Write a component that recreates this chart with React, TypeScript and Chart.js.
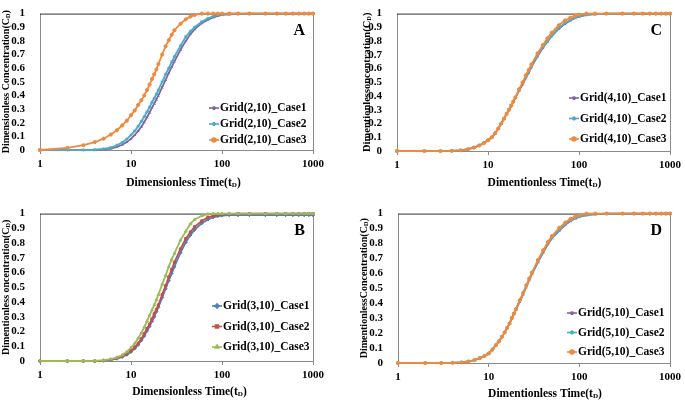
import React, { useEffect, useRef } from 'react';
import { Chart, registerables } from 'chart.js';
import { drawPoint } from 'chart.js/helpers';

Chart.register(...registerables);

// ---------------- data ----------------
const xTicks = [1, 10, 100, 1000];
const yTicks = [0, 0.1, 0.2, 0.3, 0.4, 0.5, 0.6, 0.7, 0.8, 0.9, 1];

// dimensionless time samples (tD)
const tD = [1, 2, 3, 4, 5, 6, 7, 8, 9, 10, 11, 12, 13, 14, 15, 16, 17, 18, 19, 20,
  22, 24, 26, 28, 30, 35, 40, 45, 50, 60, 70, 80, 90, 100, 120, 150, 200,
  300, 400, 500, 600, 700, 800, 900, 1000];

// Panel A : Grid(2,10)
const aLabels = ['Grid(2,10)_Case1', 'Grid(2,10)_Case2', 'Grid(2,10)_Case3'];
const aCase1 = [0, 0, 0, 0, 0.004, 0.01, 0.022, 0.038, 0.058, 0.082, 0.11, 0.14, 0.17, 0.205, 0.24, 0.275, 0.31, 0.34, 0.37, 0.4,
  0.46, 0.515, 0.565, 0.61, 0.65, 0.735, 0.8, 0.85, 0.885, 0.93, 0.955, 0.972, 0.983, 0.99, 0.995, 0.998, 1,
  1, 1, 1, 1, 1, 1, 1, 1];
const aCase2 = [0, 0, 0, 0.002, 0.008, 0.018, 0.035, 0.055, 0.08, 0.11, 0.14, 0.175, 0.21, 0.245, 0.28, 0.315, 0.35, 0.38, 0.41, 0.44,
  0.5, 0.555, 0.6, 0.645, 0.685, 0.765, 0.83, 0.87, 0.9, 0.94, 0.965, 0.98, 0.99, 0.995, 1, 1, 1,
  1, 1, 1, 1, 1, 1, 1, 1];
const aCase3 = [0, 0.016, 0.035, 0.058, 0.083, 0.113, 0.145, 0.18, 0.215, 0.255, 0.29, 0.33, 0.365, 0.4, 0.44, 0.48, 0.52, 0.555, 0.59, 0.63,
  0.7, 0.76, 0.805, 0.845, 0.878, 0.925, 0.958, 0.978, 0.99, 1, 1, 1, 1, 1, 1, 1, 1,
  1, 1, 1, 1, 1, 1, 1, 1];

// Panel B : Grid(3,10)
const bLabels = ['Grid(3,10)_Case1', 'Grid(3,10)_Case2', 'Grid(3,10)_Case3'];
const bCase1 = [0, 0, 0, 0, 0.002, 0.007, 0.016, 0.028, 0.043, 0.062, 0.085, 0.11, 0.14, 0.17, 0.205, 0.235, 0.27, 0.3, 0.335, 0.365,
  0.43, 0.49, 0.545, 0.595, 0.64, 0.735, 0.805, 0.855, 0.89, 0.935, 0.96, 0.975, 0.983, 0.987, 0.99, 0.99, 0.99,
  0.99, 0.99, 0.99, 0.99, 0.99, 0.99, 0.99, 0.99];
const bCase2 = [0, 0, 0, 0, 0.003, 0.009, 0.02, 0.033, 0.05, 0.07, 0.095, 0.12, 0.15, 0.185, 0.22, 0.25, 0.285, 0.32, 0.35, 0.38,
  0.45, 0.51, 0.57, 0.62, 0.67, 0.76, 0.83, 0.875, 0.91, 0.95, 0.975, 0.985, 0.99, 0.995, 0.998, 1, 1,
  1, 1, 1, 1, 1, 1, 1, 1];
const bCase3 = [0, 0, 0, 0.001, 0.005, 0.012, 0.025, 0.04, 0.062, 0.09, 0.12, 0.155, 0.19, 0.23, 0.27, 0.31, 0.345, 0.38, 0.415, 0.45,
  0.52, 0.58, 0.64, 0.69, 0.73, 0.82, 0.88, 0.93, 0.96, 0.985, 0.997, 1, 1, 1, 1, 1, 1,
  1, 1, 1, 1, 1, 1, 1, 1];

// Panel C : Grid(4,10)
const cLabels = ['Grid(4,10)_Case1', 'Grid(4,10)_Case2', 'Grid(4,10)_Case3'];
const cCase1 = [0, 0, 0, 0.001, 0.005, 0.013, 0.025, 0.04, 0.058, 0.078, 0.1, 0.13, 0.165, 0.2, 0.235, 0.27, 0.3, 0.33, 0.36, 0.39,
  0.44, 0.485, 0.53, 0.57, 0.61, 0.69, 0.75, 0.795, 0.835, 0.89, 0.925, 0.95, 0.967, 0.978, 0.99, 0.996, 1,
  1, 1, 1, 1, 1, 1, 1, 1];
const cCase2 = [0, 0, 0, 0.001, 0.005, 0.013, 0.025, 0.04, 0.058, 0.078, 0.1, 0.13, 0.165, 0.2, 0.235, 0.27, 0.3, 0.33, 0.36, 0.39,
  0.445, 0.49, 0.535, 0.575, 0.615, 0.695, 0.755, 0.8, 0.84, 0.895, 0.93, 0.955, 0.97, 0.98, 0.99, 0.996, 1,
  1, 1, 1, 1, 1, 1, 1, 1];
const cCase3 = [0, 0, 0, 0.001, 0.005, 0.013, 0.025, 0.04, 0.058, 0.078, 0.1, 0.13, 0.165, 0.2, 0.235, 0.27, 0.3, 0.33, 0.36, 0.39,
  0.45, 0.5, 0.55, 0.59, 0.63, 0.71, 0.77, 0.82, 0.86, 0.915, 0.95, 0.97, 0.985, 0.992, 1, 1, 1,
  1, 1, 1, 1, 1, 1, 1, 1];

// Panel D : Grid(5,10)
const dLabels = ['Grid(5,10)_Case1', 'Grid(5,10)_Case2', 'Grid(5,10)_Case3'];
const dCase1 = [0, 0, 0, 0.001, 0.004, 0.01, 0.02, 0.033, 0.047, 0.064, 0.09, 0.12, 0.145, 0.175, 0.205, 0.235, 0.265, 0.3, 0.33, 0.36,
  0.41, 0.46, 0.51, 0.555, 0.595, 0.675, 0.74, 0.795, 0.835, 0.885, 0.925, 0.95, 0.967, 0.978, 0.99, 0.996, 1,
  1, 1, 1, 1, 1, 1, 1, 1];
const dCase2 = [0, 0, 0, 0.001, 0.004, 0.01, 0.02, 0.033, 0.047, 0.064, 0.09, 0.12, 0.145, 0.175, 0.205, 0.235, 0.265, 0.3, 0.33, 0.36,
  0.415, 0.465, 0.515, 0.56, 0.6, 0.68, 0.745, 0.8, 0.84, 0.89, 0.93, 0.955, 0.97, 0.98, 0.99, 0.997, 1,
  1, 1, 1, 1, 1, 1, 1, 1];
const dCase3 = [0, 0, 0, 0.001, 0.004, 0.01, 0.02, 0.033, 0.047, 0.064, 0.09, 0.12, 0.145, 0.175, 0.205, 0.235, 0.265, 0.3, 0.33, 0.36,
  0.42, 0.47, 0.52, 0.565, 0.605, 0.69, 0.755, 0.81, 0.85, 0.905, 0.94, 0.965, 0.98, 0.99, 1, 1, 1,
  1, 1, 1, 1, 1, 1, 1, 1];

// ---------------- styling ----------------
const SERIF = '"Liberation Serif", "Times New Roman", serif';
const PURPLE = '#8064A2';
const TEAL = '#4BACC6';
const ORANGE = '#EE8A3E';
const BLUE = '#4F81BD';
const RED = '#C0504D';
const GREEN = '#9BBB59';

type PanelCfg = {
  left: number; top: number; w: number; h: number;
  area: { l: number; r: number; t: number; b: number };
  letter: string;
  labels: string[];
  series: number[][];
  colors: string[];
  styles: string[];
  xTitle: string; yTitle: string;
  xTitleDx: number; xTitleY: number; yTitleX: number; yFont: number;
  leg: { x: number; y0: number; sp: number };
};

const panels: PanelCfg[] = [
  {
    left: 0, top: 0, w: 340, h: 200, area: { l: 40, r: 313, t: 7, b: 150 }, letter: 'A',
    labels: aLabels, series: [aCase1, aCase2, aCase3], colors: [PURPLE, TEAL, ORANGE],
    styles: ['crossRot', 'star', 'circle'],
    xTitle: 'Dimensionless Time(t', yTitle: 'Dimensionless Concentration(C',
    xTitleDx: 7, xTitleY: 183, yTitleX: 6, yFont: 10, leg: { x: 220, y0: 108, sp: 16 },
  },
  {
    left: 340, top: 0, w: 345, h: 200, area: { l: 57, r: 333, t: 7, b: 151 }, letter: 'C',
    labels: cLabels, series: [cCase1, cCase2, cCase3], colors: [PURPLE, TEAL, ORANGE],
    styles: ['crossRot', 'star', 'circle'],
    xTitle: 'Dimentionless Time(t', yTitle: 'Dimentionlessoncentration(C',
    xTitleDx: 11, xTitleY: 183, yTitleX: 27, yFont: 10.5, leg: { x: 240, y0: 98, sp: 20.5 },
  },
  {
    left: 0, top: 200, w: 340, h: 203, area: { l: 40, r: 313, t: 13, b: 161 }, letter: 'B',
    labels: bLabels, series: [bCase1, bCase2, bCase3], colors: [BLUE, RED, GREEN],
    styles: ['rectRot', 'rect', 'triangle'],
    xTitle: 'Dimensionless Time(t', yTitle: 'Dimentionless oncentration(C',
    xTitleDx: 13, xTitleY: 192, yTitleX: 6, yFont: 10, leg: { x: 223, y0: 106, sp: 20.5 },
  },
  {
    left: 340, top: 200, w: 345, h: 203, area: { l: 58, r: 332, t: 6, b: 163 }, letter: 'D',
    labels: dLabels, series: [dCase1, dCase2, dCase3], colors: [PURPLE, TEAL, ORANGE],
    styles: ['crossRot', 'star', 'circle'],
    xTitle: 'Dimentionless Time(t', yTitle: 'DimentionlessConcentration(C',
    xTitleDx: 11, xTitleY: 194, yTitleX: 24, yFont: 10, leg: { x: 238, y0: 113, sp: 19.5 },
  },
];

function drawSubText(ctx: CanvasRenderingContext2D, main: string, size: number, cx: number, cy: number) {
  const big = `bold ${size}px ${SERIF}`;
  const small = `bold ${size * 0.62}px ${SERIF}`;
  ctx.font = big; const w1 = ctx.measureText(main).width; const w3 = ctx.measureText(')').width;
  ctx.font = small; const w2 = ctx.measureText('D').width;
  let x = cx - (w1 + w2 + w3) / 2;
  ctx.textBaseline = 'middle'; ctx.textAlign = 'left'; ctx.fillStyle = '#000';
  ctx.font = big; ctx.fillText(main, x, cy); x += w1;
  ctx.font = small; ctx.fillText('D', x, cy + size * 0.22); x += w2;
  ctx.font = big; ctx.fillText(')', x, cy);
}

function Panel({ cfg }: { cfg: PanelCfg }) {
  const ref = useRef<HTMLCanvasElement>(null);
  useEffect(() => {
    const { area, w, h } = cfg;
    const decor = {
      id: 'decor',
      beforeDatasetsDraw(chart: any) {
        const ctx = chart.ctx; const ca = chart.chartArea;
        ctx.save();
        ctx.lineWidth = 1;
        ctx.strokeStyle = '#8a8a8a';
        ctx.beginPath();
        ctx.moveTo(ca.left + 0.5, ca.top); ctx.lineTo(ca.left + 0.5, ca.bottom + 0.5);
        ctx.lineTo(ca.right + 0.5, ca.bottom + 0.5); ctx.lineTo(ca.right + 0.5, ca.top);
        ctx.stroke();
        ctx.strokeStyle = '#333';
        ctx.beginPath(); ctx.moveTo(ca.left, ca.top + 0.5); ctx.lineTo(ca.right + 1, ca.top + 0.5); ctx.stroke();
        ctx.restore();
      },
      afterDraw(chart: any) {
        const ctx = chart.ctx; const ca = chart.chartArea;
        ctx.save();
        // panel letter
        ctx.font = `bold 16px ${SERIF}`; ctx.fillStyle = '#000';
        ctx.textAlign = 'right'; ctx.textBaseline = 'alphabetic';
        ctx.fillText(cfg.letter, ca.right - 8, ca.top + 21);
        // x title
        drawSubText(ctx, cfg.xTitle, 11.5, (ca.left + ca.right) / 2 + cfg.xTitleDx, cfg.xTitleY);
        // y title
        ctx.save();
        ctx.translate(cfg.yTitleX, (ca.top + ca.bottom) / 2);
        ctx.rotate(-Math.PI / 2);
        drawSubText(ctx, cfg.yTitle, cfg.yFont, 0, 0);
        ctx.restore();
        // legend
        chart.data.datasets.forEach((ds: any, i: number) => {
          const y = cfg.leg.y0 + i * cfg.leg.sp;
          const x = cfg.leg.x;
          ctx.strokeStyle = ds.borderColor; ctx.lineWidth = 1.6;
          ctx.beginPath(); ctx.moveTo(x - 11, y); ctx.lineTo(x - 1, y); ctx.stroke();
          ctx.fillStyle = ds.borderColor; ctx.strokeStyle = ds.borderColor;
          drawPoint(ctx, { pointStyle: ds.pointStyle, radius: 2, rotation: 0, borderWidth: 1 }, x - 6, y);
          ctx.font = `bold 11.5px ${SERIF}`; ctx.fillStyle = '#000';
          ctx.textAlign = 'left'; ctx.textBaseline = 'middle';
          ctx.fillText(ds.label, x, y + 0.5);
        });
        ctx.restore();
      },
    };
    const chart = new Chart(ref.current!, {
      type: 'line',
      data: {
        datasets: cfg.series.map((vals, i) => ({
          label: cfg.labels[i],
          data: tD.map((t, j) => ({ x: t, y: vals[j] })),
          borderColor: cfg.colors[i],
          backgroundColor: cfg.colors[i],
          pointBorderColor: cfg.colors[i],
          pointBackgroundColor: cfg.colors[i],
          pointStyle: cfg.styles[i] as any,
          pointRadius: 1.6,
          pointBorderWidth: 1,
          borderWidth: 1.8,
          tension: 0,
          order: 2 - i,
          clip: false as any,
        })),
      },
      options: {
        responsive: false,
        animation: false,
        events: [],
        layout: { padding: { left: 0, top: area.t, right: w - area.r, bottom: 0 } },
        plugins: { legend: { display: false }, tooltip: { enabled: false } },
        scales: {
          x: {
            type: 'logarithmic', min: 1, max: 1000,
            afterBuildTicks: (s: any) => { s.ticks = xTicks.map((v) => ({ value: v })); },
            afterFit: (s: any) => { s.height = h - area.b; },
            grid: { display: true, drawOnChartArea: false, drawTicks: true, tickLength: 4, color: '#8a8a8a' },
            border: { display: false },
            ticks: {
              autoSkip: false, maxRotation: 0, padding: 4, color: '#000',
              font: { family: SERIF, size: 11, weight: 'bold' },
              callback: (v: any) => String(v),
            },
          },
          y: {
            type: 'linear', min: 0, max: 1,
            afterBuildTicks: (s: any) => { s.ticks = yTicks.map((v) => ({ value: v })); },
            afterFit: (s: any) => { s.width = area.l; },
            grid: { display: false },
            border: { display: false },
            ticks: {
              autoSkip: false, padding: 7, color: '#000',
              font: { family: SERIF, size: 11, weight: 'bold' },
              callback: (v: any) => (v === 0 ? '0' : v === 1 ? '1' : Number(v).toFixed(1)),
            },
          },
        },
      },
      plugins: [decor],
    });
    return () => chart.destroy();
  }, []);
  return (
    <div style={{ position: 'absolute', left: cfg.left, top: cfg.top, width: cfg.w, height: cfg.h }}>
      <canvas ref={ref} width={cfg.w} height={cfg.h} style={{ width: cfg.w, height: cfg.h, display: 'block' }} />
    </div>
  );
}

export default function App() {
  return (
    <div style={{ position: 'absolute', left: 0, top: 0, width: 685, height: 403, background: '#fff', overflow: 'hidden' }}>
      {panels.map((p) => <Panel key={p.letter} cfg={p} />)}
    </div>
  );
}
